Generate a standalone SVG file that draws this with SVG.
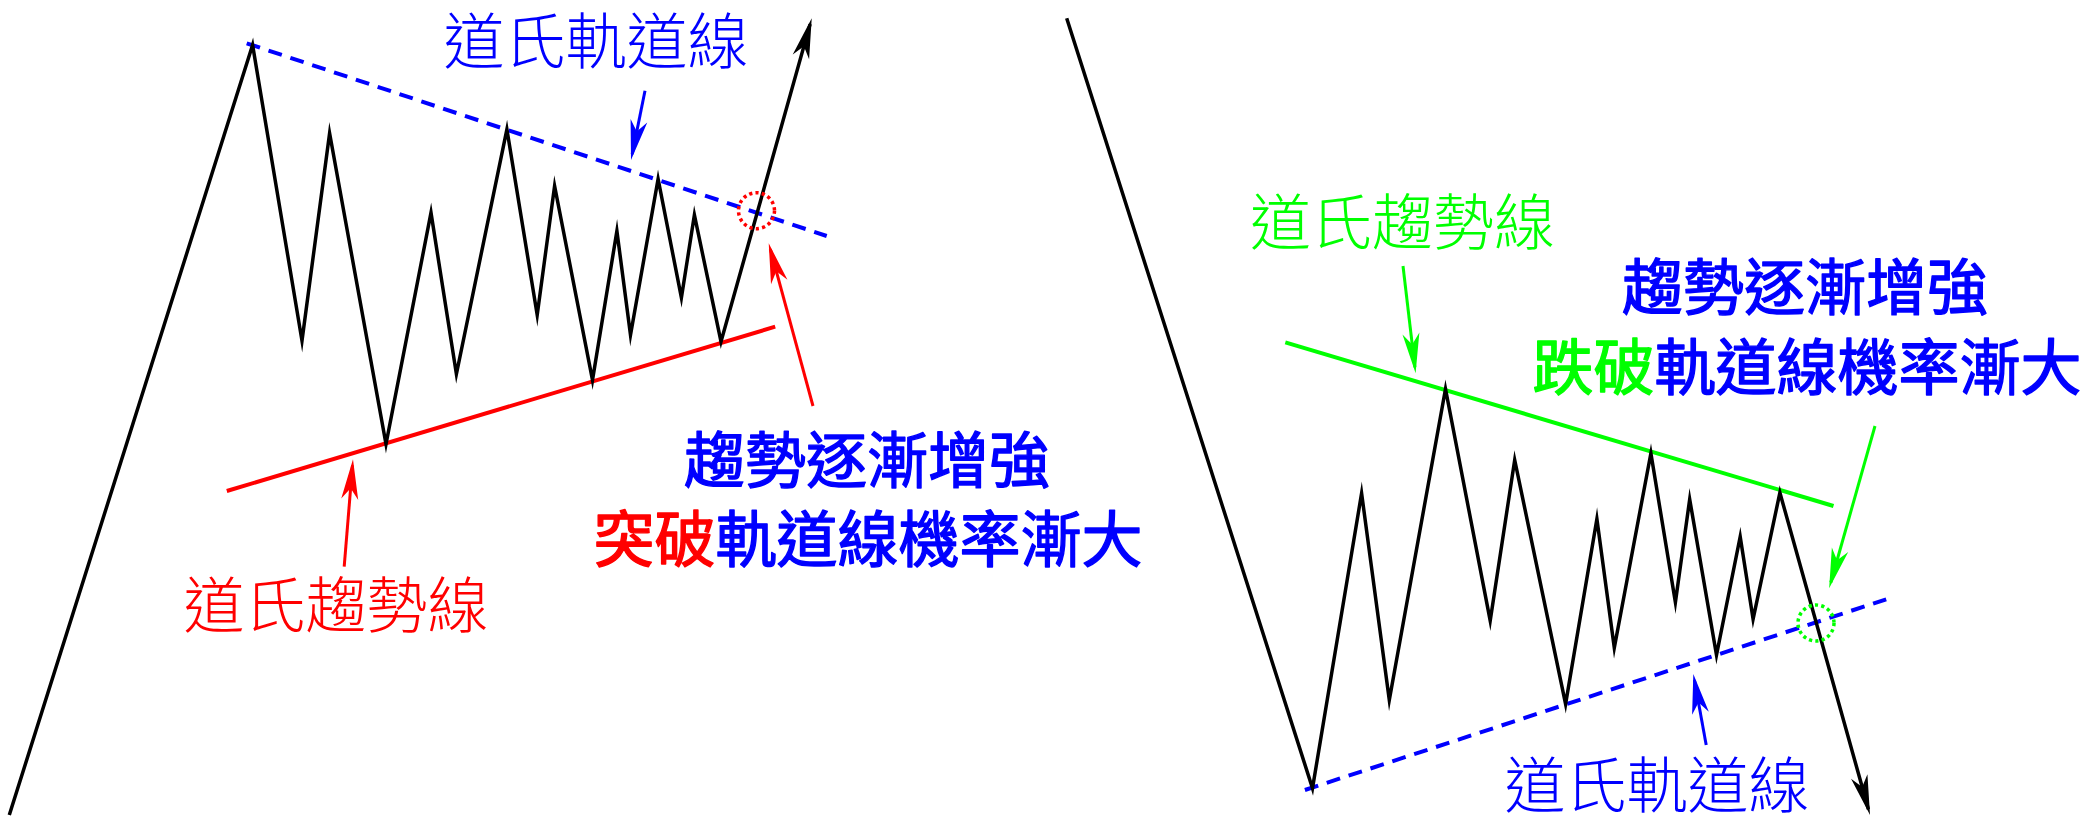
<svg xmlns="http://www.w3.org/2000/svg" width="2098" height="832" viewBox="0 0 2098 832">
<style>
  .price{fill:none;stroke:#000;stroke-width:3.5;stroke-linejoin:miter;stroke-miterlimit:20}
  .trend{fill:none;stroke-width:4}
  .dash{fill:none;stroke:#0000ff;stroke-width:4;stroke-dasharray:14 9}
  .dot{fill:none;stroke-width:3.5;stroke-dasharray:3.2 3.2}
  .arr{fill:none;stroke-width:3}
  text{font-family:"Noto Sans CJK TC","Noto Sans CJK SC",sans-serif;font-size:61px;text-anchor:middle}
  .thin{font-weight:300}
  .med{font-weight:400;stroke-width:1.4;stroke-linejoin:round}
  .blue{fill:#0000ff}
  .red{fill:#ff0000}
  .green{fill:#00ff00}
  .med.blue,.med .blue{stroke:#0000ff}
  .med .red{stroke:#ff0000}
  .med .green{stroke:#00ff00}
</style>
<defs>
  <marker id="ah-k" markerUnits="userSpaceOnUse" orient="auto" refX="-6" refY="0" markerWidth="50" markerHeight="20" viewBox="-45 -10 50 20" overflow="visible"><path d="M0,0 L-40,-8.5 L-29,0 L-40,8.5 Z" fill="#000"/></marker>
  <marker id="ah-b" markerUnits="userSpaceOnUse" orient="auto" refX="-6" refY="0" markerWidth="50" markerHeight="20" viewBox="-45 -10 50 20" overflow="visible"><path d="M0,0 L-40,-8.5 L-29,0 L-40,8.5 Z" fill="#0000ff"/></marker>
  <marker id="ah-r" markerUnits="userSpaceOnUse" orient="auto" refX="-6" refY="0" markerWidth="50" markerHeight="20" viewBox="-45 -10 50 20" overflow="visible"><path d="M0,0 L-40,-8.5 L-29,0 L-40,8.5 Z" fill="#ff0000"/></marker>
  <marker id="ah-g" markerUnits="userSpaceOnUse" orient="auto" refX="-6" refY="0" markerWidth="50" markerHeight="20" viewBox="-45 -10 50 20" overflow="visible"><path d="M0,0 L-40,-8.5 L-29,0 L-40,8.5 Z" fill="#00ff00"/></marker>
</defs>
<rect width="2098" height="832" fill="#fff"/>

<g id="left-panel">
  <g id="left-channel-lines">
    <line class="dash" x1="246.7" y1="43.3" x2="826.7" y2="236"/>
    <line class="trend" stroke="#ff0000" x1="226.8" y1="491" x2="775.2" y2="326.7"/>
  </g>
  <path id="left-price" class="price" marker-end="url(#ah-k)" d="M9.3,815 L252.6,45 L302,340.7 L329.6,133.3 L386,444 L431,212.7 L456.4,374 L506.9,129.3 L537.2,315 L554.6,186 L592.5,380 L616.9,231 L630.5,335 L658.1,179 L681.4,297.7 L694.4,215 L721,341.7 L810.1,24.1"/>
  <circle id="left-break" class="dot" stroke="#ff0000" cx="756.5" cy="210.7" r="18"/>
  <g id="left-labels">
    <text class="thin blue" x="596" y="64">道氏軌道線</text>
    <text class="thin red" x="336" y="628">道氏趨勢線</text>
    <text class="med blue" x="867" y="483">趨勢逐漸增強</text>
    <text class="med" x="868" y="562"><tspan class="red">突破</tspan><tspan class="blue">軌道線機率漸大</tspan></text>
  </g>
</g>

<g id="right-panel">
  <g id="right-channel-lines">
    <line class="trend" stroke="#00ff00" x1="1285.3" y1="342.3" x2="1833.5" y2="506"/>
    <line class="dash" x1="1304.9" y1="790" x2="1886.2" y2="599.3"/>
  </g>
  <path id="right-price" class="price" marker-end="url(#ah-k)" d="M1066.7,18.3 L1312.5,788.3 L1361.6,493.3 L1389.3,700 L1445.5,389 L1490.2,620.7 L1514.7,460 L1565.6,704 L1596.9,519 L1614.3,647.7 L1650.9,453.3 L1675.4,602.3 L1689.7,499.3 L1716.5,655 L1740.2,536.7 L1753.1,619 L1779.9,492.7 L1868.4,809.2"/>
  <circle id="right-break" class="dot" stroke="#00ff00" cx="1816" cy="623" r="18"/>
  <g id="right-labels">
    <text class="thin green" x="1402.5" y="245">道氏趨勢線</text>
    <text class="med blue" x="1805" y="310">趨勢逐漸增強</text>
    <text class="med" x="1807" y="390"><tspan class="green">跌破</tspan><tspan class="blue">軌道線機率漸大</tspan></text>
    <text class="thin blue" x="1657" y="808">道氏軌道線</text>
  </g>
</g>

<g id="connectors">
  <line class="arr" stroke="#0000ff" marker-end="url(#ah-b)" x1="645" y1="90.7" x2="632.2" y2="154.1"/>
  <line class="arr" stroke="#ff0000" marker-end="url(#ah-r)" x1="813" y1="406" x2="770.3" y2="249.1"/>
  <line class="arr" stroke="#ff0000" marker-end="url(#ah-r)" x1="344.2" y1="566.7" x2="352.5" y2="465.3"/>
  <line class="arr" stroke="#00ff00" marker-end="url(#ah-g)" x1="1403" y1="266" x2="1414.9" y2="367.3"/>
  <line class="arr" stroke="#00ff00" marker-end="url(#ah-g)" x1="1875" y1="426" x2="1830.8" y2="582.5"/>
  <line class="arr" stroke="#0000ff" marker-end="url(#ah-b)" x1="1706.2" y1="745" x2="1694.4" y2="679.9"/>
</g>
</svg>
